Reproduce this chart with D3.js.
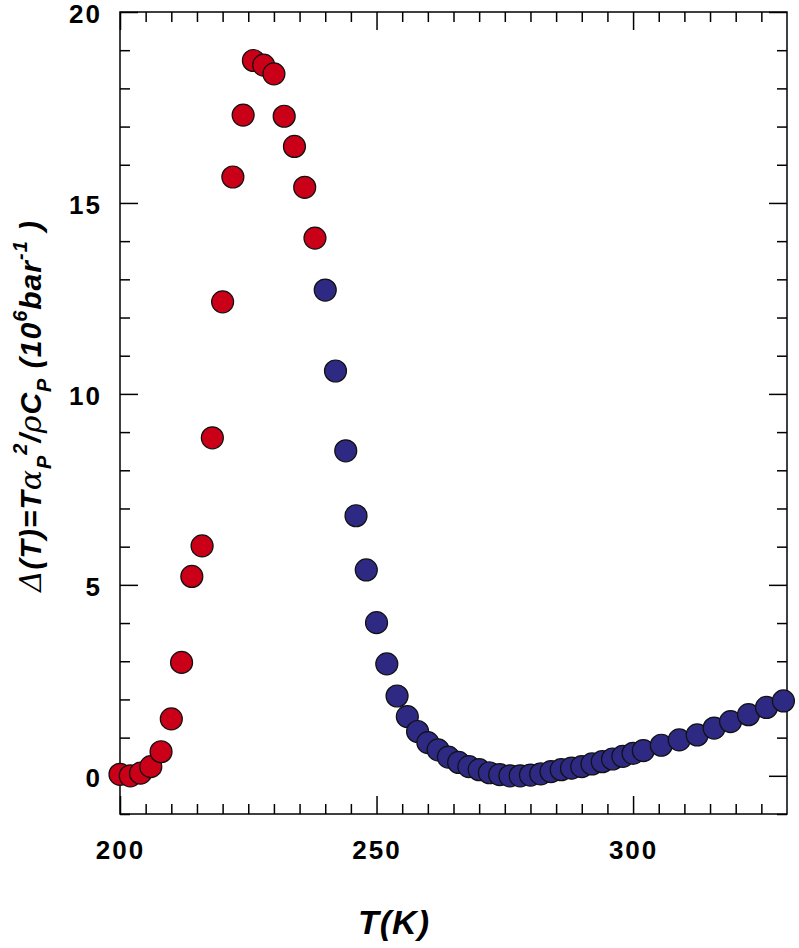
<!DOCTYPE html>
<html>
<head>
<meta charset="utf-8">
<script src="https://cdn.jsdelivr.net/npm/d3@7"></script>
<style>
  html, body { margin: 0; padding: 0; background: #fff; }
  svg { display: block; }
</style>
</head>
<body>
<svg id="chart" width="799" height="948"></svg>
<script>
// ---- data ----
const redT = [200, 202, 204, 206, 208, 210, 212, 214, 216, 218, 220, 222, 224, 226, 228, 230, 232, 234, 236, 238];
const redDelta = [0.04, 0.0, 0.07, 0.24, 0.63, 1.49, 2.97, 5.22, 6.02, 8.85, 12.41, 15.68, 17.30, 18.73, 18.61, 18.38, 17.27, 16.48, 15.41, 14.08];

const blueT = [240, 242, 244, 246, 248, 250, 252, 254, 256, 258, 260, 262, 264, 266, 268, 270,
  272, 274, 276, 278, 280, 282, 284, 286, 288, 290, 292, 294, 296, 298, 300,
  302, 305.5, 309, 312.5, 315.8, 319, 322.5, 326, 329.3];
const blueDelta = [12.72, 10.6, 8.51, 6.81, 5.39, 4.01, 2.93, 2.09, 1.55, 1.16, 0.87, 0.68, 0.49, 0.35, 0.24, 0.16,
  0.08, 0.03, 0.0, 0.0, 0.02, 0.05, 0.11, 0.16, 0.2, 0.24, 0.31, 0.37, 0.44, 0.51, 0.59,
  0.66, 0.80, 0.94, 1.07, 1.25, 1.42, 1.60, 1.79, 1.96];

const xDomain = [200, 330];
const yDomain = [-1, 20];
const xMajorTicks = [200, 250, 300];
const yMajorTicks = [0, 5, 10, 15, 20];
const xMinorTicks = d3.range(205, 330, 5).filter(v => !xMajorTicks.includes(v));
const yMinorTicks = d3.range(-1, 20, 1).filter(v => !yMajorTicks.includes(v));

// ---- layout ----
const L = 120, R = 787, T = 12, B = 814;
const svg = d3.select("#chart");
const x = d3.scaleLinear().domain(xDomain).range([L, R]);
const y = d3.scaleLinear().domain(yDomain).range([B, T]);

const majorLen = 18, minorLen = 10;
const tickFont = "'Liberation Sans', Arial, sans-serif";

function styleAxis(g) {
  g.select(".domain").remove();
  g.selectAll("line").attr("stroke", "#000").attr("stroke-width", 1.5);
  g.selectAll("text")
    .attr("fill", "#000")
    .style("font-family", tickFont)
    .style("font-weight", "bold")
    .style("font-size", "26px")
    .style("letter-spacing", "2px");
}

// bottom axis
svg.append("g").attr("transform", `translate(0,${B})`)
  .call(d3.axisBottom(x).tickValues(xMajorTicks).tickSize(-majorLen).tickPadding(27).tickFormat(d3.format("d")))
  .call(styleAxis);
svg.append("g").attr("transform", `translate(0,${B})`)
  .call(d3.axisBottom(x).tickValues(xMinorTicks).tickSize(-minorLen).tickFormat(""))
  .call(styleAxis);
// top axis
svg.append("g").attr("transform", `translate(0,${T})`)
  .call(d3.axisTop(x).tickValues(xMajorTicks).tickSize(-majorLen).tickFormat(""))
  .call(styleAxis);
svg.append("g").attr("transform", `translate(0,${T})`)
  .call(d3.axisTop(x).tickValues(xMinorTicks).tickSize(-minorLen).tickFormat(""))
  .call(styleAxis);
// left axis
svg.append("g").attr("transform", `translate(${L},0)`)
  .call(d3.axisLeft(y).tickValues(yMajorTicks).tickSize(-majorLen).tickPadding(18).tickFormat(d3.format("d")))
  .call(styleAxis)
  .call(g => g.selectAll("text").attr("dy", "0.4em"));
svg.append("g").attr("transform", `translate(${L},0)`)
  .call(d3.axisLeft(y).tickValues(yMinorTicks).tickSize(-minorLen).tickFormat(""))
  .call(styleAxis);
// right axis
svg.append("g").attr("transform", `translate(${R},0)`)
  .call(d3.axisRight(y).tickValues(yMajorTicks).tickSize(-majorLen).tickFormat(""))
  .call(styleAxis);
svg.append("g").attr("transform", `translate(${R},0)`)
  .call(d3.axisRight(y).tickValues(yMinorTicks).tickSize(-minorLen).tickFormat(""))
  .call(styleAxis);

// frame
svg.append("rect")
  .attr("x", x(xDomain[0])).attr("y", y(yDomain[1]))
  .attr("width", x(xDomain[1]) - x(xDomain[0]))
  .attr("height", y(yDomain[0]) - y(yDomain[1]))
  .attr("fill", "none").attr("stroke", "#000").attr("stroke-width", 1.5);

// ---- points ----
const redData = redT.map((t, i) => ({ t, v: redDelta[i] }));
const blueData = blueT.map((t, i) => ({ t, v: blueDelta[i] }));

function drawPoints(data, fill) {
  svg.append("g").selectAll("circle").data(data).join("circle")
    .attr("cx", d => x(d.t)).attr("cy", d => y(d.v))
    .attr("r", 11)
    .attr("fill", fill)
    .attr("stroke", "#111").attr("stroke-width", 1.2);
}
drawPoints(redData, "#c90018");
drawPoints(blueData, "#2e2a84");

// ---- axis titles ----
svg.append("text")
  .attr("x", 394).attr("y", 934)
  .attr("text-anchor", "middle")
  .style("font-family", tickFont)
  .style("font-weight", "bold").style("font-style", "italic")
  .style("font-size", "34px").style("letter-spacing", "1px")
  .text("T(K)");

const greek = "'DejaVu Serif', 'Liberation Serif', serif";
const ytitle = svg.append("text")
  .attr("transform", "translate(41,406) rotate(-90)")
  .attr("text-anchor", "middle")
  .style("font-family", tickFont)
  .style("font-weight", "bold").style("font-style", "italic")
  .style("font-size", "30px")
  .style("letter-spacing", "1px");

const parts = [
  { t: "Δ", f: greek, w: "normal" },
  { t: "(T)=T" },
  { t: "α", f: greek, w: "normal" },
  { t: "P", dy: 10, s: 20 },
  { t: "2", dy: -24, s: 20 },
  { t: "/", dy: 14 },
  { t: "ρ", f: greek, w: "normal" },
  { t: "C" },
  { t: "P", dy: 10, s: 20 },
  { t: "\u00A0(10", dy: -10 },
  { t: "6", dy: -14, s: 20 },
  { t: "bar", dy: 14 },
  { t: "-1", dy: -14, s: 20 },
  { t: "\u00A0)", dy: 14 }
];
parts.forEach(p => {
  const ts = ytitle.append("tspan").text(p.t);
  if (p.f) ts.style("font-family", p.f);
  if (p.w) ts.style("font-weight", p.w);
  if (p.s) ts.style("font-size", p.s + "px");
  if (p.dy) ts.attr("dy", p.dy);
});
</script>
</body>
</html>
